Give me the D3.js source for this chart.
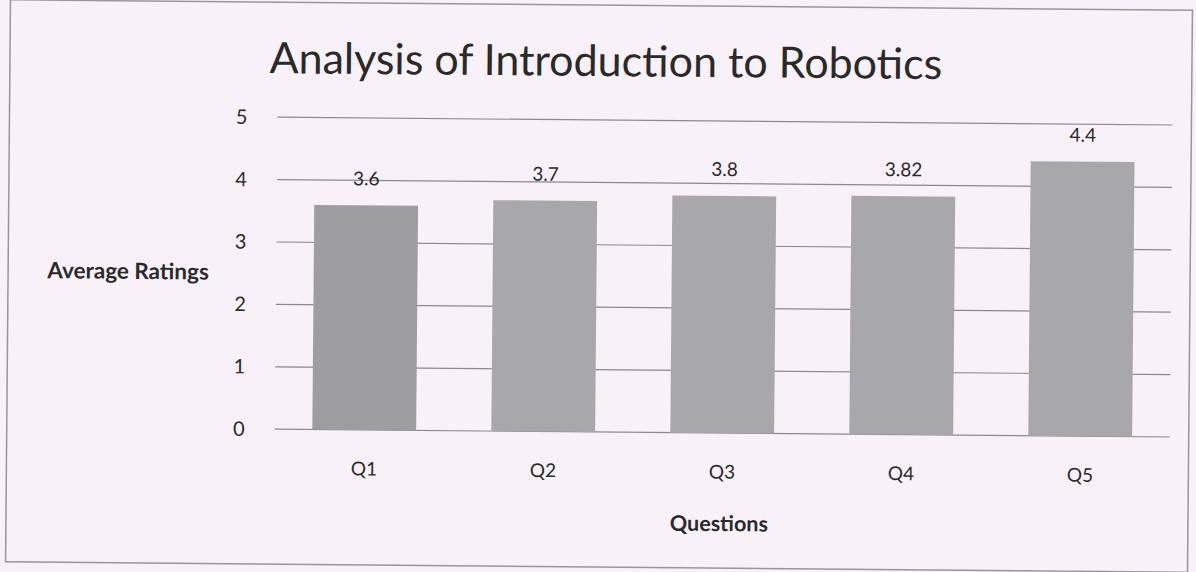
<!DOCTYPE html>
<html>
<head>
<meta charset="utf-8">
<script src="https://cdn.jsdelivr.net/npm/d3@7"></script>
<style>
  html, body { margin: 0; padding: 0; background: #f8f1f8; }
  svg { display: block; }
  text { font-family: Lato, "Open Sans", sans-serif; fill: #2a2a2a; }
</style>
</head>
<body>
<div id="chart"></div>
<script>
var categories = ['Q1', 'Q2', 'Q3', 'Q4', 'Q5'],
    ratings = [3.6, 3.7, 3.8, 3.82, 4.4],
    yTicks = [0, 1, 2, 3, 4, 5];

var width = 1196,
    height = 572,
    plotLeft = 276,
    plotRight = 1171,
    plotTop = 120,
    plotBottom = 432;

var svg = d3.select('#chart').append('svg')
    .attr('width', width)
    .attr('height', height);

// the scan is tilted a little, so the whole sheet is too
var sheet = svg.append('g')
    .attr('transform', 'rotate(0.5,' + width/2 + ',' + height/2 + ')');

sheet.append('rect')
    .attr('x', 8).attr('y', 5)
    .attr('width', 1182).attr('height', 562)
    .attr('fill', 'none')
    .attr('stroke', '#9a94a0')
    .attr('stroke-width', 1.5);

var x = d3.scaleBand().domain(categories).range([plotLeft, plotRight]).paddingInner(0.42).paddingOuter(0.21),
    y = d3.scaleLinear().domain([0, 5]).range([plotBottom, plotTop]);

var chart = sheet.append('g');

chart.selectAll('.grid')
    .data(yTicks)
    .enter()
    .append('line')
    .attr('class', 'grid')
    .attr('x1', plotLeft)
    .attr('x2', plotRight)
    .attr('y1', function(d) { return y(d); })
    .attr('y2', function(d) { return y(d); })
    .attr('stroke', '#8c8890')
    .attr('stroke-width', 1.2);

var yAxis = chart.append('g')
    .attr('transform', 'translate(' + plotLeft + ',0)')
    .call(d3.axisLeft(y).tickValues(yTicks).tickFormat(d3.format('d')).tickSize(0).tickPadding(30));
yAxis.select('.domain').remove();
yAxis.selectAll('text').style('font-size', '20px').style('font-family', 'Lato, sans-serif').attr('fill', '#333');

chart.selectAll('.bar')
    .data(ratings)
    .enter()
    .append('rect')
    .attr('class', 'bar')
    .attr('x', function(d, i) { return x(categories[i]); })
    .attr('y', function(d) { return y(d); })
    .attr('width', x.bandwidth())
    .attr('height', function(d) { return y(0) - y(d); })
    .attr('fill', function(d, i) { return i === 0 ? '#9e9d9f' : '#a8a7a9'; });

chart.selectAll('.value')
    .data(ratings)
    .enter()
    .append('text')
    .attr('class', 'value')
    .attr('x', function(d, i) { return x(categories[i]) + x.bandwidth()/2; })
    .attr('y', function(d) { return y(d) - 20; })
    .attr('text-anchor', 'middle')
    .style('font-size', '19px')
    .text(function(d) { return d; });

var xAxis = chart.append('g')
    .attr('transform', 'translate(0,' + plotBottom + ')')
    .call(d3.axisBottom(x).tickSize(0).tickPadding(32));
xAxis.select('.domain').remove();
xAxis.selectAll('text').style('font-size', '19px').style('font-family', 'Lato, sans-serif').attr('fill', '#333');

sheet.append('text')
    .attr('x', 604)
    .attr('y', 76)
    .attr('text-anchor', 'middle')
    .style('font-size', '43px')
    .text('Analysis of Introduction to Robotics');

sheet.append('text')
    .attr('x', 128)
    .attr('y', 283)
    .attr('text-anchor', 'middle')
    .style('font-size', '22.5px')
    .style('font-weight', 'bold')
    .text('Average Ratings');

sheet.append('text')
    .attr('x', 721)
    .attr('y', 530)
    .attr('text-anchor', 'middle')
    .style('font-size', '21.5px')
    .style('font-weight', 'bold')
    .text('Questions');
</script>
</body>
</html>
